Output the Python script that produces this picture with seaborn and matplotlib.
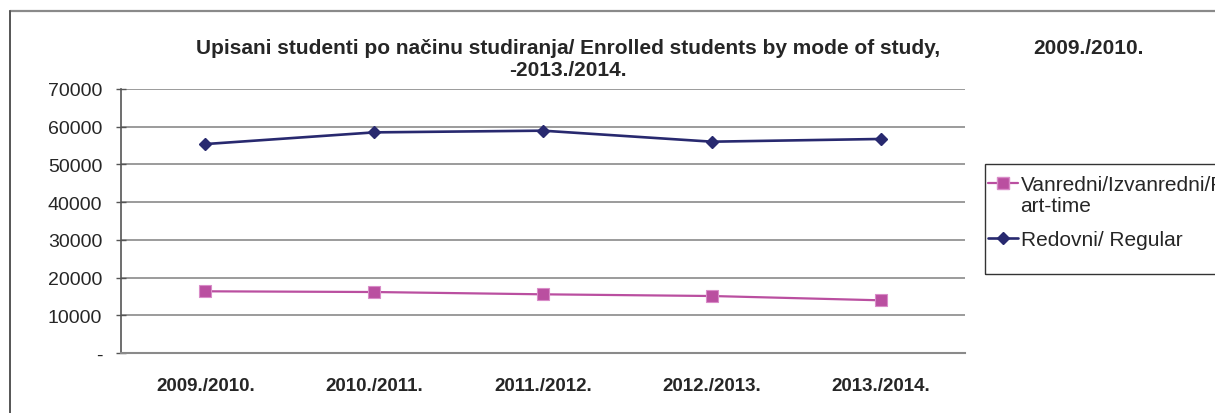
import matplotlib
matplotlib.use("Agg")
import matplotlib.pyplot as plt
from matplotlib.lines import Line2D
from matplotlib.patches import Rectangle
import seaborn as sns
import pandas as pd

years = ["2009./2010.", "2010./2011.", "2011./2012.", "2012./2013.", "2013./2014."]
part_time = [16360, 16170, 15560, 15110, 13970]
regular = [55400, 58500, 58950, 56030, 56750]
series_names = ["Vanredni/Izvanredni/Part-time", "Redovni/ Regular"]
legend_first_lines = ["Vanredni/Izvanredni/P", "Redovni/ Regular"]
legend_wrap_line = "art-time"
ytick_vals = [0, 10000, 20000, 30000, 40000, 50000, 60000, 70000]
ytick_labels = ["-", "10000", "20000", "30000", "40000", "50000", "60000", "70000"]

df = pd.DataFrame({
    "year": years * 2,
    "value": part_time + regular,
    "series": [series_names[0]] * len(years) + [series_names[1]] * len(years),
})

sns.set_theme(style="white")
plt.rcParams["font.family"] = ["Liberation Sans", "DejaVu Sans"]

W, H = 1215, 414
fig = plt.figure(figsize=(W / 100, H / 100), dpi=100)
ax = fig.add_axes([121 / W, 1 - 354 / H, (965 - 121) / W, (354 - 90) / H])

pink = "#BA4FA0"
navy = "#28296F"
palette = {series_names[0]: pink, series_names[1]: navy}

sns.lineplot(data=df, x="year", y="value", hue="series", style="series",
             markers={series_names[0]: "s", series_names[1]: "D"},
             dashes=False, palette=palette, sort=False, ax=ax, legend=False,
             linewidth=1.8)
for line in ax.get_lines():
    if matplotlib.colors.to_hex(line.get_color()) == pink.lower():
        line.set_markersize(8.6)
        line.set_markeredgecolor("#D98CC8")
        line.set_markeredgewidth(0.8)
        line.set_linewidth(1.6)
    else:
        line.set_markersize(6.2)
        line.set_markeredgecolor(navy)
        line.set_markeredgewidth(1.0)
        line.set_linewidth(1.9)

ax.set_xlim(-0.5, len(years) - 0.5)
ax.set_ylim(0, 70000)
ax.set_yticks(ytick_vals)
ax.set_yticklabels(ytick_labels, fontsize=14)
ax.set_xticks(range(len(years)))
ax.set_xticklabels(years, fontsize=13.5, fontweight="bold")
ax.set_xlabel("")
ax.set_ylabel("")
ax.yaxis.grid(True, color="#8a8a8a", linewidth=1.2)
ax.xaxis.grid(False)
ax.set_axisbelow(True)
for s in ["top", "right"]:
    ax.spines[s].set_visible(False)
ax.spines["left"].set_color("#555555")
ax.spines["left"].set_linewidth(1.2)
ax.spines["bottom"].set_color("#8a8a8a")
ax.spines["bottom"].set_linewidth(1.5)
ax.tick_params(axis="y", direction="inout", length=7, width=1.0, color="#555555", pad=10, left=True)
ax.tick_params(axis="x", length=0, pad=17)

# title
tfs = 15.0
fig.text(568 / W, 1 - 48 / H, "Upisani studenti po načinu studiranja/ Enrolled students by mode of study,",
         ha="center", va="center", fontsize=tfs, fontweight="bold")
fig.text(568 / W, 1 - 71 / H, "-2013./2014.", ha="center", va="center", fontsize=tfs, fontweight="bold")
fig.text(1088 / W, 1 - 48 / H, "2009./2010.", ha="center", va="center", fontsize=tfs, fontweight="bold")

# legend box
fig.patches.append(Rectangle((985 / W, 1 - 275 / H), 300 / W, 110 / H, transform=fig.transFigure,
                             fill=False, edgecolor="#333333", linewidth=1.0))
handles = [
    Line2D([], [], color=pink, marker="s", markersize=8.6, markeredgecolor="#D98CC8", linewidth=1.6),
    Line2D([], [], color=navy, marker="D", markersize=6.2, linewidth=1.9),
]
fig.legend(handles, legend_first_lines, loc="upper left", bbox_to_anchor=(988 / W, 1 - 176 / H),
           frameon=False, fontsize=15, handlelength=1.45, handletextpad=0.15,
           labelspacing=1.75, borderaxespad=0, borderpad=0)
fig.text(1020 / W, 1 - 207 / H, legend_wrap_line, ha="left", va="center", fontsize=15)

# chart border
fig.add_artist(Line2D([10 / W, 1.0], [1 - 12 / H, 1 - 12 / H], transform=fig.transFigure,
                      color="#8a8a8a", linewidth=1.6))
fig.add_artist(Line2D([10 / W, 10 / W], [1 - 12 / H, 0], transform=fig.transFigure,
                      color="#555555", linewidth=1.4))

fig.savefig("out.png", dpi=100)
